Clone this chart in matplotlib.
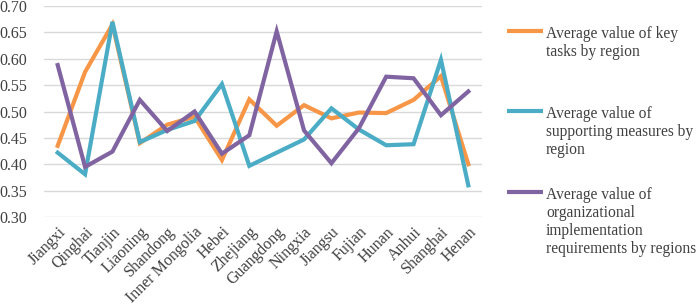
import numpy as np
import matplotlib.pyplot as plt
from matplotlib.lines import Line2D

plt.rcParams['font.family'] = 'Liberation Serif'

# Regions along the x axis
regions = ['Jiangxi', 'Qinghai', 'Tianjin', 'Liaoning', 'Shandong', 'Inner Mongolia',
           'Hebei', 'Zhejiang', 'Guangdong', 'Ningxia', 'Jiangsu', 'Fujian',
           'Hunan', 'Anhui', 'Shanghai', 'Henan']

# Average values
key_tasks = [0.435, 0.575, 0.665, 0.440, 0.475, 0.490, 0.408, 0.523,
             0.473, 0.512, 0.487, 0.498, 0.497, 0.522, 0.567, 0.400]
supporting = [0.422, 0.381, 0.670, 0.442, 0.465, 0.482, 0.552, 0.397,
              0.422, 0.447, 0.506, 0.466, 0.436, 0.438, 0.598, 0.360]
organizational = [0.588, 0.395, 0.424, 0.522, 0.463, 0.500, 0.420, 0.455,
                  0.652, 0.464, 0.402, 0.468, 0.566, 0.563, 0.493, 0.538]

labels = ['Average value of key\ntasks by region',
          'Average value of\nsupporting measures by\nregion',
          'Average value of\norganizational\nimplementation\nrequirements by regions']
colors = ['#F79646', '#4BACC6', '#8064A2']
series = [key_tasks, supporting, organizational]

fig = plt.figure(figsize=(6.99, 3.06), dpi=100)
ax = fig.add_axes([44 / 699, 1 - 217 / 306, 438 / 699, 211 / 306])

x = np.arange(len(regions))
for vals, c in zip(series, colors):
    ax.plot(x, vals, color=c, linewidth=3, solid_joinstyle='miter')

yt = np.arange(0.30, 0.701, 0.05)
ax.set_xlim(-0.5, len(regions) - 0.5)
ax.set_ylim(0.30, 0.70)
ax.set_yticks(yt)
ax.set_yticklabels(['%.2f' % v for v in yt], fontsize=11.5, color='#404040')
ax.set_xticks(x)
ax.set_xticklabels(regions, rotation=45, ha='right', rotation_mode='anchor', fontsize=11.5, color='#404040')
ax.tick_params(axis='y', length=0, pad=12)
ax.tick_params(axis='x', length=0, pad=5)
ax.grid(axis='y', color='#D9D9D9', linewidth=1)
ax.set_axisbelow(True)
for s in ax.spines.values():
    s.set_visible(False)

# Legend drawn by hand so the line sits beside the first text line
legend_y = [31, 111, 192]
for lab, c, yy in zip(labels, colors, legend_y):
    yf = 1 - yy / 306
    fig.add_artist(Line2D([507 / 699, 543 / 699], [yf, yf], color=c, linewidth=3,
                          solid_capstyle='butt', transform=fig.transFigure))
    fig.text(546 / 699, yf + 5 / 306, lab, va='top', ha='left', fontsize=11.2,
             color='#404040', linespacing=1.18)

fig.savefig('out.png', dpi=100)
